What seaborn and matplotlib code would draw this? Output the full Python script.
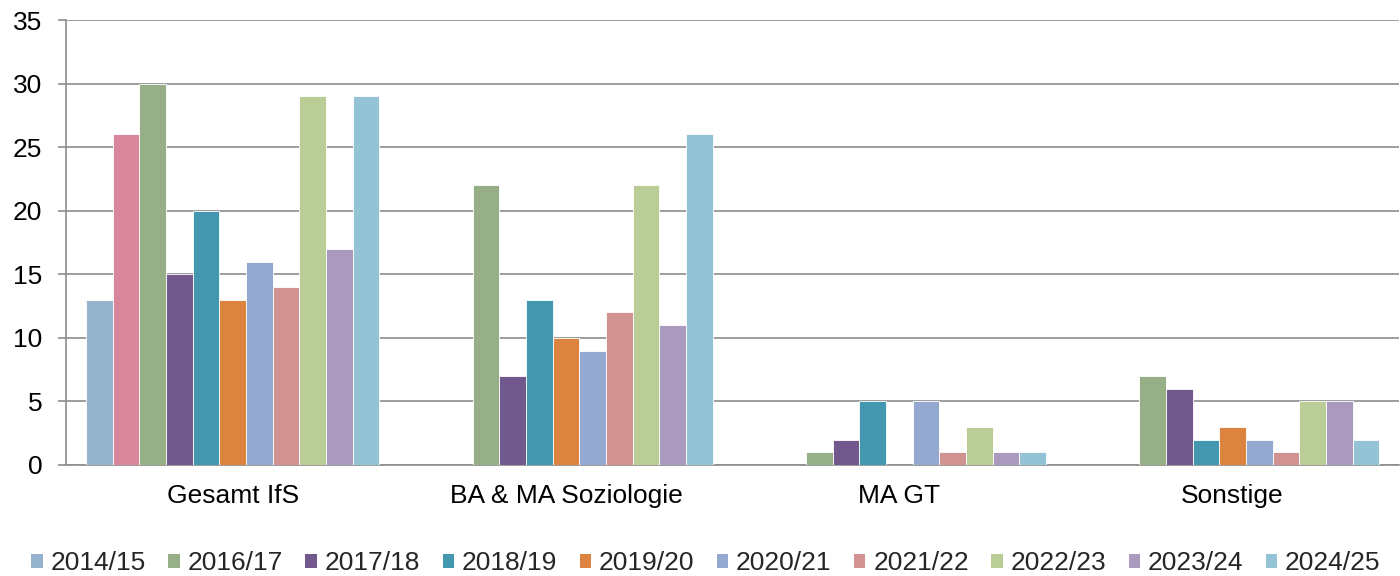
import numpy as np
import pandas as pd
import matplotlib
matplotlib.use("Agg")
import matplotlib.pyplot as plt
import seaborn as sns
from matplotlib.patches import Patch

categories = ["Gesamt IfS", "BA & MA Soziologie", "MA GT", "Sonstige"]
years = ["2014/15", "2015/16", "2016/17", "2017/18", "2018/19", "2019/20",
         "2020/21", "2021/22", "2022/23", "2023/24", "2024/25"]
legend_years = ["2014/15", "2016/17", "2017/18", "2018/19", "2019/20",
                "2020/21", "2021/22", "2022/23", "2023/24", "2024/25"]
nan = np.nan
v_gesamt = [13, 26, 30, 15, 20, 13, 16, 14, 29, 17, 29]
v_soz = [nan, nan, 22, 7, 13, 10, 9, 12, 22, 11, 26]
v_magt = [nan, nan, 1, 2, 5, nan, 5, 1, 3, 1, 1]
v_sonst = [nan, nan, 7, 6, 2, 3, 2, 1, 5, 5, 2]
colors = ["#95B3CC", "#D9869C", "#97AF87", "#72598D", "#4398B0", "#DC843F",
          "#95A9D0", "#D19391", "#BACD96", "#A99ABE", "#93C3D5"]

rows = []
for cat, vals in zip(categories, [v_gesamt, v_soz, v_magt, v_sonst]):
    for y, v in zip(years, vals):
        rows.append({"Kategorie": cat, "Jahr": y, "Wert": v})
df = pd.DataFrame(rows).dropna()

sns.set_theme(style="white")
plt.rcParams["font.family"] = ["Liberation Sans", "DejaVu Sans"]

FS = 19
fig = plt.figure(figsize=(14, 5.76), dpi=100)
ax = fig.add_axes([66 / 1400, 1 - 465 / 576, 1 - 66 / 1400 - 0.0005, 445 / 576])

palette = dict(zip(years, colors))
sns.barplot(data=df, x="Kategorie", y="Wert", hue="Jahr", order=categories,
            hue_order=years, palette=palette, width=0.88, dodge=True,
            saturation=1, edgecolor="white", linewidth=0.6, errorbar=None,
            ax=ax, legend=False, zorder=3)

ax.set_ylim(0, 35)
ax.set_xlim(-0.5, 3.5)
ax.set_yticks(range(0, 36, 5))
ax.yaxis.grid(True, color="#8C8C8C", linewidth=1.2, zorder=0)
ax.set_axisbelow(True)
ax.set_xlabel("")
ax.set_ylabel("")

for s in ["top", "right"]:
    ax.spines[s].set_visible(False)
for s in ["left", "bottom"]:
    ax.spines[s].set_color("#8C8C8C")
    ax.spines[s].set_linewidth(1.2)

ax.set_xticks(range(4))
ax.set_xticklabels(categories)
ax.set_xticks(np.arange(-0.5, 3.6, 1), minor=True)
ax.tick_params(axis="x", which="major", length=0, pad=14, labelsize=FS, colors="black")
ax.tick_params(axis="x", which="minor", length=6, width=1.2, color="#8C8C8C", direction="out")
ax.tick_params(axis="y", which="major", length=6, width=1.2, color="#8C8C8C", left=True,
               direction="out", pad=11, labelsize=FS, labelcolor="black")

handles = [Patch(facecolor=palette[y], edgecolor="none") for y in legend_years]
fig.legend(handles, legend_years, loc="center", ncol=10, frameon=False,
           fontsize=FS, handlelength=0.43, handleheight=0.43, handletextpad=0.3,
           columnspacing=0.85, bbox_to_anchor=(0.5 + 6 / 1400, 1 - 563 / 576))

fig.savefig("out.png", dpi=100)
